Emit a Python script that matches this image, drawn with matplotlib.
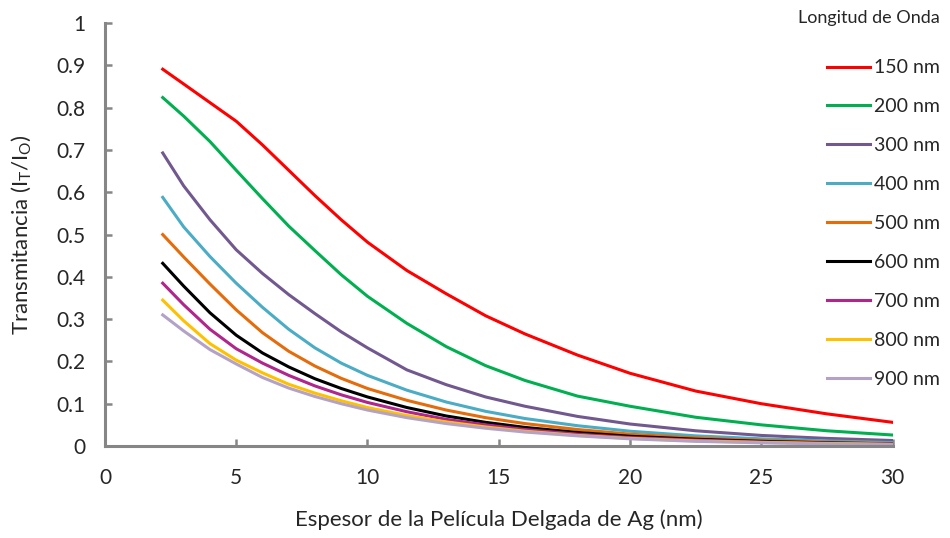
import numpy as np
import matplotlib.pyplot as plt

plt.rcParams['font.family'] = ['Lato', 'DejaVu Sans']
plt.rcParams['mathtext.fontset'] = 'custom'
plt.rcParams['mathtext.rm'] = 'Lato'

# espesor de la película (nm)
espesor = [2.2, 3, 4, 5, 6, 7, 8, 9, 10, 11.5, 13, 14.5, 16, 18, 20, 22.5, 25, 27.5, 30]

# transmitancia
t150 = [0.891, 0.856, 0.812, 0.768, 0.712, 0.652, 0.592, 0.535, 0.482, 0.415, 0.360, 0.308, 0.265, 0.215, 0.172, 0.130, 0.100, 0.076, 0.056]
t200 = [0.824, 0.780, 0.720, 0.652, 0.585, 0.520, 0.462, 0.405, 0.354, 0.290, 0.235, 0.190, 0.155, 0.118, 0.094, 0.068, 0.050, 0.036, 0.026]
t300 = [0.693, 0.615, 0.535, 0.464, 0.408, 0.358, 0.313, 0.270, 0.232, 0.180, 0.145, 0.116, 0.094, 0.070, 0.052, 0.036, 0.025, 0.018, 0.013]
t400 = [0.588, 0.518, 0.448, 0.385, 0.328, 0.276, 0.232, 0.196, 0.167, 0.132, 0.104, 0.082, 0.065, 0.048, 0.035, 0.024, 0.017, 0.012, 0.008]
t500 = [0.500, 0.447, 0.383, 0.322, 0.268, 0.224, 0.189, 0.160, 0.136, 0.108, 0.085, 0.067, 0.053, 0.039, 0.028, 0.019, 0.013, 0.009, 0.006]
t600 = [0.432, 0.378, 0.315, 0.262, 0.220, 0.187, 0.159, 0.136, 0.116, 0.091, 0.071, 0.056, 0.044, 0.032, 0.023, 0.016, 0.011, 0.0075, 0.005]
t700 = [0.385, 0.334, 0.276, 0.230, 0.196, 0.167, 0.142, 0.121, 0.103, 0.081, 0.063, 0.050, 0.039, 0.028, 0.020, 0.014, 0.0095, 0.0065, 0.0045]
t800 = [0.345, 0.296, 0.242, 0.203, 0.173, 0.146, 0.125, 0.107, 0.091, 0.072, 0.057, 0.045, 0.035, 0.025, 0.018, 0.012, 0.0085, 0.006, 0.004]
t900 = [0.310, 0.272, 0.228, 0.194, 0.162, 0.137, 0.117, 0.100, 0.085, 0.067, 0.053, 0.042, 0.033, 0.024, 0.017, 0.011, 0.0075, 0.005, 0.0035]

series = [t150, t200, t300, t400, t500, t600, t700, t800, t900]
etiquetas = ['150 nm', '200 nm', '300 nm', '400 nm', '500 nm', '600 nm', '700 nm', '800 nm', '900 nm']
colores = ['#FF0000', '#00B050', '#71588F', '#4BACC6', '#E46C0A', '#000000', '#B0268C', '#FFC000', '#B3A2C7']

fig = plt.figure(figsize=(9.5, 5.38), dpi=100)
ax = fig.add_axes([0.1105, 0.171, 0.829, 0.786])

for y, lab, c in zip(series, etiquetas, colores):
    ax.plot(espesor, y, color=c, lw=2.2, label=lab, solid_joinstyle='round')

ax.set_xlim(0, 30)
ax.set_ylim(0, 1)
ax.set_xticks(np.arange(0, 31, 5))
ax.set_yticks(np.arange(0, 1.01, 0.1))
ax.set_yticklabels(['0', '0.1', '0.2', '0.3', '0.4', '0.5', '0.6', '0.7', '0.8', '0.9', '1'])

for s in ['top', 'right']:
    ax.spines[s].set_visible(False)
for s in ['left', 'bottom']:
    ax.spines[s].set_color('#868686')
    ax.spines[s].set_linewidth(2.2)
ax.tick_params(direction='in', length=5, width=1.8, color='#868686',
               labelsize=15, labelcolor='#262626')
ax.tick_params(axis='y', pad=14)
ax.tick_params(axis='x', pad=16)

ax.set_xlabel('Espesor de la Película Delgada de Ag (nm)', fontsize=16, color='#262626', labelpad=15)
ax.set_ylabel(r'Transmitancia (I$\mathregular{_T}$/I$\mathregular{_O}$)', fontsize=16, color='#262626', labelpad=17)

leg = ax.legend(loc='upper right', bbox_to_anchor=(940 / 950, 1 - 10 / 538),
                bbox_transform=fig.transFigure, frameon=False, borderpad=0, borderaxespad=0,
                fontsize=14, handlelength=2.2, handletextpad=0.2, labelspacing=1.13,
                title='Longitud de Onda', title_fontsize=13, alignment='right')
leg._legend_box.sep = 24
leg.get_title().set_color('#262626')
for t in leg.get_texts():
    t.set_color('#262626')

plt.savefig('out.png', dpi=100)
